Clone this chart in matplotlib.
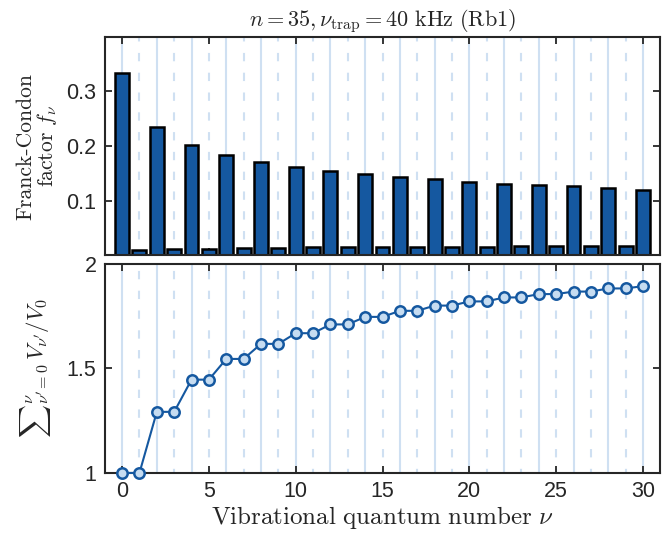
import numpy as np
import matplotlib
matplotlib.use("Agg")
import matplotlib.pyplot as plt

plt.rcParams["mathtext.fontset"] = "cm"
plt.rcParams["font.family"] = ["Liberation Sans", "DejaVu Sans"]

# vibrational quantum numbers
nu = np.arange(0, 31)

# Franck-Condon factors
fc = [0.334, 0.009, 0.235, 0.011, 0.202, 0.012, 0.184, 0.013, 0.171, 0.014,
      0.162, 0.015, 0.154, 0.015, 0.149, 0.015, 0.144, 0.015, 0.139, 0.015,
      0.135, 0.015, 0.131, 0.016, 0.128, 0.016, 0.126, 0.017, 0.123, 0.017,
      0.120]

# cumulative sum, bottom panel
cum = [1.0, 1.0, 1.292, 1.292, 1.446, 1.446, 1.545, 1.545, 1.617, 1.617,
       1.668, 1.668, 1.710, 1.710, 1.746, 1.746, 1.775, 1.775, 1.800, 1.800,
       1.820, 1.820, 1.839, 1.839, 1.855, 1.855, 1.867, 1.867, 1.882, 1.882,
       1.893]

xticks = [0, 5, 10, 15, 20, 25, 30]

blue = "#1558a0"
grid_c = "#cfe0f2"
spine_c = "#262626"

fig = plt.figure(figsize=(6.67, 5.35), dpi=100)
ax1 = fig.add_axes([0.157, 0.523, 0.833, 0.408])
ax2 = fig.add_axes([0.157, 0.116, 0.833, 0.391])


def grid_lines(ax):
    for v in nu:
        if v % 2 == 0:
            ax.axvline(v, color=grid_c, lw=1.5, zorder=0)
        else:
            ax.axvline(v, color=grid_c, lw=1.5, ls=(2, (4, 5.5)), zorder=0)


def style(ax):
    ax.set_xlim(-1, 31)
    ax.set_xticks(xticks)
    ax.tick_params(direction="in", length=5, width=1.3, top=True, right=True,
                   labelsize=15.5, colors=spine_c, pad=6)
    for s in ax.spines.values():
        s.set_linewidth(1.5)
        s.set_color(spine_c)


# top: Franck-Condon factors
grid_lines(ax1)
ax1.bar(nu, fc, width=0.8, color=blue, edgecolor="black", linewidth=1.8, zorder=2)
style(ax1)
ax1.set_ylim(0, 0.4)
ax1.set_yticks([0.1, 0.2, 0.3])
ax1.set_yticklabels(["0.1", "0.2", "0.3"])
ax1.tick_params(labelbottom=False)
ax1.set_ylabel("Franck-Condon\nfactor $f_\\nu$", family="cmr10", fontsize=15.5,
               linespacing=1.0, labelpad=5, color=spine_c)
ax1.set_title(r"$n=35, \nu_{\mathrm{trap}}=40\ \mathrm{kHz\ (Rb1)}$", fontsize=16,
              pad=8, color=spine_c)

# bottom: cumulative sum
grid_lines(ax2)
ax2.plot(nu, cum, color=blue, lw=1.5, marker="o", markersize=7.5,
         markerfacecolor="#c6dcf1", markeredgecolor=blue, markeredgewidth=1.8,
         zorder=3, clip_on=False)
style(ax2)
ax2.set_ylim(1, 2)
ax2.set_yticks([1, 1.5, 2])
ax2.set_yticklabels(["1", "1.5", "2"])
ax2.set_ylabel(r"${\sum}_{\nu'=0}^{\nu}\, V_{\nu'}/V_0$", fontsize=16.5, labelpad=10,
               color=spine_c)
ax2.set_xlabel(r"$\mathrm{Vibrational\ quantum\ number}\ \nu$", fontsize=18,
               labelpad=1, color=spine_c)

fig.savefig("out.png", dpi=100)
